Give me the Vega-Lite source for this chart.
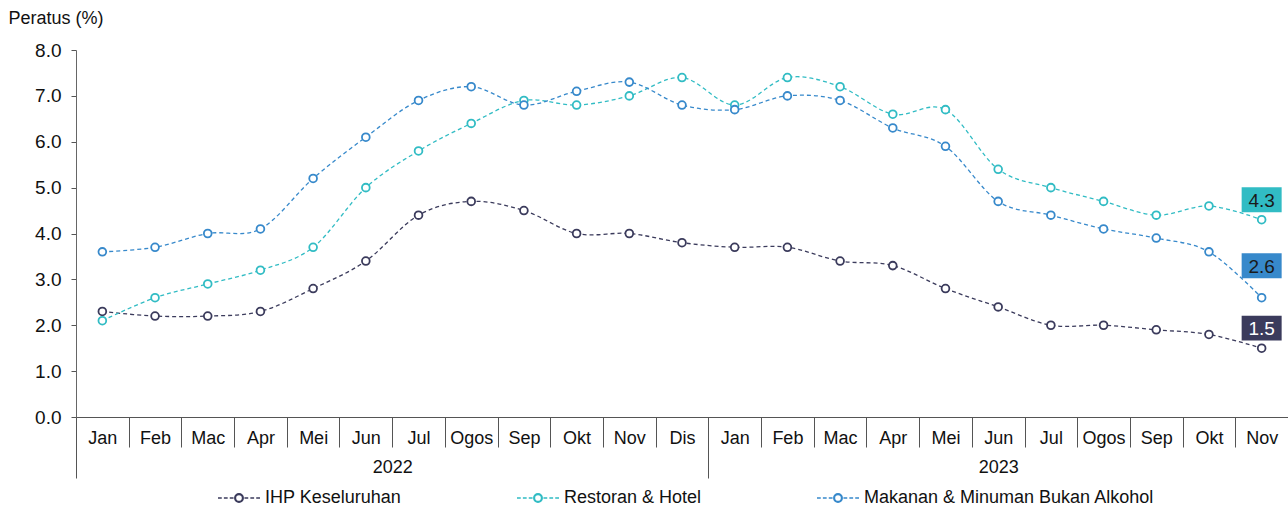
{
  "$schema": "https://vega.github.io/schema/vega-lite/v6.json",
  "width": 1212,
  "height": 367,
  "autosize": {"type": "none"},
  "padding": {"left": 76, "top": 50, "right": 0, "bottom": 91},
  "background": "white",
  "config": {
    "font": "Liberation Sans",
    "view": {"stroke": null},
    "axis": {"labelFont": "Liberation Sans", "titleFont": "Liberation Sans", "grid": false},
    "legend": {"labelFont": "Liberation Sans"}
  },
  "data": {
    "values": [
      {"tempoh": "Jan 2022", "siri": "IHP Keseluruhan", "nilai": 2.3},
      {"tempoh": "Feb 2022", "siri": "IHP Keseluruhan", "nilai": 2.2},
      {"tempoh": "Mac 2022", "siri": "IHP Keseluruhan", "nilai": 2.2},
      {"tempoh": "Apr 2022", "siri": "IHP Keseluruhan", "nilai": 2.3},
      {"tempoh": "Mei 2022", "siri": "IHP Keseluruhan", "nilai": 2.8},
      {"tempoh": "Jun 2022", "siri": "IHP Keseluruhan", "nilai": 3.4},
      {"tempoh": "Jul 2022", "siri": "IHP Keseluruhan", "nilai": 4.4},
      {"tempoh": "Ogos 2022", "siri": "IHP Keseluruhan", "nilai": 4.7},
      {"tempoh": "Sep 2022", "siri": "IHP Keseluruhan", "nilai": 4.5},
      {"tempoh": "Okt 2022", "siri": "IHP Keseluruhan", "nilai": 4.0},
      {"tempoh": "Nov 2022", "siri": "IHP Keseluruhan", "nilai": 4.0},
      {"tempoh": "Dis 2022", "siri": "IHP Keseluruhan", "nilai": 3.8},
      {"tempoh": "Jan 2023", "siri": "IHP Keseluruhan", "nilai": 3.7},
      {"tempoh": "Feb 2023", "siri": "IHP Keseluruhan", "nilai": 3.7},
      {"tempoh": "Mac 2023", "siri": "IHP Keseluruhan", "nilai": 3.4},
      {"tempoh": "Apr 2023", "siri": "IHP Keseluruhan", "nilai": 3.3},
      {"tempoh": "Mei 2023", "siri": "IHP Keseluruhan", "nilai": 2.8},
      {"tempoh": "Jun 2023", "siri": "IHP Keseluruhan", "nilai": 2.4},
      {"tempoh": "Jul 2023", "siri": "IHP Keseluruhan", "nilai": 2.0},
      {"tempoh": "Ogos 2023", "siri": "IHP Keseluruhan", "nilai": 2.0},
      {"tempoh": "Sep 2023", "siri": "IHP Keseluruhan", "nilai": 1.9},
      {"tempoh": "Okt 2023", "siri": "IHP Keseluruhan", "nilai": 1.8},
      {"tempoh": "Nov 2023", "siri": "IHP Keseluruhan", "nilai": 1.5},
      {"tempoh": "Jan 2022", "siri": "Restoran & Hotel", "nilai": 2.1},
      {"tempoh": "Feb 2022", "siri": "Restoran & Hotel", "nilai": 2.6},
      {"tempoh": "Mac 2022", "siri": "Restoran & Hotel", "nilai": 2.9},
      {"tempoh": "Apr 2022", "siri": "Restoran & Hotel", "nilai": 3.2},
      {"tempoh": "Mei 2022", "siri": "Restoran & Hotel", "nilai": 3.7},
      {"tempoh": "Jun 2022", "siri": "Restoran & Hotel", "nilai": 5.0},
      {"tempoh": "Jul 2022", "siri": "Restoran & Hotel", "nilai": 5.8},
      {"tempoh": "Ogos 2022", "siri": "Restoran & Hotel", "nilai": 6.4},
      {"tempoh": "Sep 2022", "siri": "Restoran & Hotel", "nilai": 6.9},
      {"tempoh": "Okt 2022", "siri": "Restoran & Hotel", "nilai": 6.8},
      {"tempoh": "Nov 2022", "siri": "Restoran & Hotel", "nilai": 7.0},
      {"tempoh": "Dis 2022", "siri": "Restoran & Hotel", "nilai": 7.4},
      {"tempoh": "Jan 2023", "siri": "Restoran & Hotel", "nilai": 6.8},
      {"tempoh": "Feb 2023", "siri": "Restoran & Hotel", "nilai": 7.4},
      {"tempoh": "Mac 2023", "siri": "Restoran & Hotel", "nilai": 7.2},
      {"tempoh": "Apr 2023", "siri": "Restoran & Hotel", "nilai": 6.6},
      {"tempoh": "Mei 2023", "siri": "Restoran & Hotel", "nilai": 6.7},
      {"tempoh": "Jun 2023", "siri": "Restoran & Hotel", "nilai": 5.4},
      {"tempoh": "Jul 2023", "siri": "Restoran & Hotel", "nilai": 5.0},
      {"tempoh": "Ogos 2023", "siri": "Restoran & Hotel", "nilai": 4.7},
      {"tempoh": "Sep 2023", "siri": "Restoran & Hotel", "nilai": 4.4},
      {"tempoh": "Okt 2023", "siri": "Restoran & Hotel", "nilai": 4.6},
      {"tempoh": "Nov 2023", "siri": "Restoran & Hotel", "nilai": 4.3},
      {"tempoh": "Jan 2022", "siri": "Makanan & Minuman Bukan Alkohol", "nilai": 3.6},
      {"tempoh": "Feb 2022", "siri": "Makanan & Minuman Bukan Alkohol", "nilai": 3.7},
      {"tempoh": "Mac 2022", "siri": "Makanan & Minuman Bukan Alkohol", "nilai": 4.0},
      {"tempoh": "Apr 2022", "siri": "Makanan & Minuman Bukan Alkohol", "nilai": 4.1},
      {"tempoh": "Mei 2022", "siri": "Makanan & Minuman Bukan Alkohol", "nilai": 5.2},
      {"tempoh": "Jun 2022", "siri": "Makanan & Minuman Bukan Alkohol", "nilai": 6.1},
      {"tempoh": "Jul 2022", "siri": "Makanan & Minuman Bukan Alkohol", "nilai": 6.9},
      {"tempoh": "Ogos 2022", "siri": "Makanan & Minuman Bukan Alkohol", "nilai": 7.2},
      {"tempoh": "Sep 2022", "siri": "Makanan & Minuman Bukan Alkohol", "nilai": 6.8},
      {"tempoh": "Okt 2022", "siri": "Makanan & Minuman Bukan Alkohol", "nilai": 7.1},
      {"tempoh": "Nov 2022", "siri": "Makanan & Minuman Bukan Alkohol", "nilai": 7.3},
      {"tempoh": "Dis 2022", "siri": "Makanan & Minuman Bukan Alkohol", "nilai": 6.8},
      {"tempoh": "Jan 2023", "siri": "Makanan & Minuman Bukan Alkohol", "nilai": 6.7},
      {"tempoh": "Feb 2023", "siri": "Makanan & Minuman Bukan Alkohol", "nilai": 7.0},
      {"tempoh": "Mac 2023", "siri": "Makanan & Minuman Bukan Alkohol", "nilai": 6.9},
      {"tempoh": "Apr 2023", "siri": "Makanan & Minuman Bukan Alkohol", "nilai": 6.3},
      {"tempoh": "Mei 2023", "siri": "Makanan & Minuman Bukan Alkohol", "nilai": 5.9},
      {"tempoh": "Jun 2023", "siri": "Makanan & Minuman Bukan Alkohol", "nilai": 4.7},
      {"tempoh": "Jul 2023", "siri": "Makanan & Minuman Bukan Alkohol", "nilai": 4.4},
      {"tempoh": "Ogos 2023", "siri": "Makanan & Minuman Bukan Alkohol", "nilai": 4.1},
      {"tempoh": "Sep 2023", "siri": "Makanan & Minuman Bukan Alkohol", "nilai": 3.9},
      {"tempoh": "Okt 2023", "siri": "Makanan & Minuman Bukan Alkohol", "nilai": 3.6},
      {"tempoh": "Nov 2023", "siri": "Makanan & Minuman Bukan Alkohol", "nilai": 2.6}
    ]
  },
  "layer": [
    {
      "encoding": {
        "x": {
          "field": "tempoh",
          "type": "ordinal",
          "sort": null,
          "scale": {
            "type": "band",
            "paddingInner": 0,
            "paddingOuter": 0,
            "domain": ["Jan 2022", "Feb 2022", "Mac 2022", "Apr 2022", "Mei 2022", "Jun 2022", "Jul 2022", "Ogos 2022", "Sep 2022", "Okt 2022", "Nov 2022", "Dis 2022", "Jan 2023", "Feb 2023", "Mac 2023", "Apr 2023", "Mei 2023", "Jun 2023", "Jul 2023", "Ogos 2023", "Sep 2023", "Okt 2023", "Nov 2023"]
          },
          "axis": {
            "title": null,
            "orient": "bottom",
            "tickBand": "extent",
            "tickSize": 30,
            "labelPadding": -18,
            "labelAngle": 0,
            "labelExpr": "split(datum.label, ' ')[0]",
            "labelFontSize": 18,
            "labelColor": "#111111",
            "domainColor": "#555555",
            "tickColor": "#555555",
            "labelBound": false,
            "labelOverlap": false
          }
        },
        "y": {
          "field": "nilai",
          "type": "quantitative",
          "scale": {"domain": [0, 8], "nice": false},
          "axis": {
            "values": [0, 1, 2, 3, 4, 5, 6, 7, 8],
            "format": ".1f",
            "title": "Peratus (%)",
            "titleAngle": 0,
            "titleX": -68,
            "titleY": -32,
            "titleAlign": "left",
            "titleBaseline": "middle",
            "titleFontWeight": "normal",
            "titleFontSize": 18,
            "titleColor": "#111111",
            "labelFontSize": 19,
            "labelColor": "#111111",
            "tickSize": 5,
            "labelPadding": 10,
            "domainColor": "#666666",
            "tickColor": "#555555"
          }
        },
        "color": {
          "field": "siri",
          "type": "nominal",
          "scale": {
            "domain": ["IHP Keseluruhan", "Restoran & Hotel", "Makanan & Minuman Bukan Alkohol"],
            "range": ["#3b3b5c", "#31bcc4", "#3789cb"]
          }
        }
      },
      "layer": [
        {
          "mark": {"type": "line", "interpolate": "cardinal", "strokeDash": [4, 3], "strokeWidth": 1.3},
          "encoding": {
            "color": {
              "field": "siri",
              "type": "nominal",
              "legend": {
                "orient": "none",
                "legendX": 141,
                "legendY": 426,
                "direction": "horizontal",
                "title": null,
                "symbolType": "M-1,0H-0.82M-0.72,0H-0.54M-0.44,0H-0.26M0.26,0H0.44M0.54,0H0.72M0.82,0H1M-0.2,0A0.2,0.2 0 1,1 0.2,0A0.2,0.2 0 1,1 -0.2,0ZM-0.17,0A0.17,0.17 0 1,0 0.17,0A0.17,0.17 0 1,0 -0.17,0Z",
                "symbolSize": 1764,
                "symbolStrokeWidth": 1.5,
                "symbolFillColor": "white",
                "symbolDash": [],
                "labelFontSize": 18,
                "labelColor": "#111111",
                "columnPadding": 112,
                "labelOffset": 4,
                "labelLimit": 400,
                "encode": {"symbols": {"update": {"fill": {"value": "white"}}}}
              }
            }
          }
        },
        {
          "mark": {"type": "point", "filled": false, "fill": "white", "size": 60, "strokeWidth": 1.8, "opacity": 1}
        },
        {
          "transform": [{"filter": "datum.tempoh === 'Nov 2023'"}],
          "mark": {
            "type": "point",
            "filled": true,
            "opacity": 1,
            "shape": "M-1,-0.62H1V0.62H-1Z",
            "size": 1600,
            "yOffset": {"expr": "datum.siri === 'Makanan & Minuman Bukan Alkohol' ? -32 : -20"}
          },
          "encoding": {
            "color": {"field": "siri", "type": "nominal", "legend": null}
          }
        },
        {
          "transform": [{"filter": "datum.tempoh === 'Nov 2023'"}],
          "mark": {
            "type": "text",
            "fontSize": 19,
            "baseline": "middle",
            "align": "center",
            "yOffset": {"expr": "datum.siri === 'Makanan & Minuman Bukan Alkohol' ? -31 : -19"}
          },
          "encoding": {
            "text": {"field": "nilai", "type": "quantitative", "format": ".1f"},
            "color": {
              "condition": {"test": "datum.siri === 'IHP Keseluruhan'", "value": "white"},
              "value": "#1a1a1a"
            }
          }
        }
      ]
    },
    {
      "data": {"values": [{}]},
      "mark": {"type": "rule", "opacity": 0},
      "encoding": {
        "x": {
          "datum": 0,
          "type": "quantitative",
          "scale": {"domain": [0, 23], "nice": false, "zero": false},
          "axis": {
            "orient": "bottom",
            "title": null,
            "values": [0, 6, 12, 17.5, 23],
            "tickSize": 61,
            "tickColor": "#555555",
            "tickOpacity": {"condition": {"test": "datum.value === 6 || datum.value === 17.5", "value": 0}, "value": 1},
            "labelExpr": "datum.value === 6 ? '2022' : datum.value === 17.5 ? '2023' : ''",
            "labelPadding": -20,
            "labelFontSize": 18,
            "labelColor": "#111111",
            "labelFlush": false,
            "labelOverlap": false,
            "labelBound": false,
            "domain": false,
            "grid": false
          }
        }
      }
    }
  ],
  "resolve": {"scale": {"x": "independent"}, "axis": {"x": "independent"}}
}
